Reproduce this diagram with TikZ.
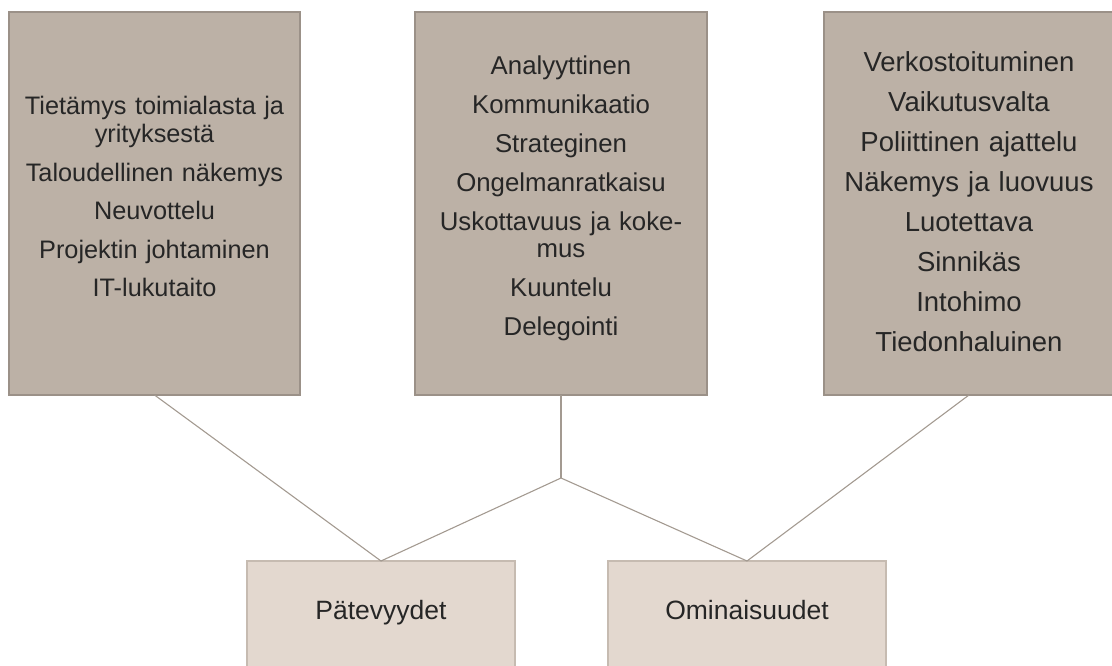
\documentclass[tikz,border=0pt]{standalone}
\usepackage{fontspec}
\setmainfont{Liberation Sans}
\definecolor{topfill}{HTML}{BCB1A6}
\definecolor{topdraw}{HTML}{9B9188}
\definecolor{botfill}{HTML}{E3D8CF}
\definecolor{botdraw}{HTML}{C6BBB1}
\definecolor{linkcol}{HTML}{A39A91}
\definecolor{txt}{HTML}{262626}
\tikzset{
  topbox/.style={draw=topdraw, fill=topfill, line width=1.4pt, minimum width=#1, minimum height=383pt, inner sep=0pt, outer sep=0pt},
  botbox/.style={draw=botdraw, fill=botfill, line width=1.4pt, minimum width=#1, minimum height=110pt, inner sep=0pt, outer sep=0pt},
  itemtext/.style={text=txt, align=center, text width=286pt, inner sep=0pt, anchor=base},
  lbl/.style={text=txt, font=\fontsize{26.5}{30}\selectfont, inner sep=0pt, anchor=base},
  link/.style={draw=linkcol, line width=1.1pt},
}
\begin{document}
\begin{tikzpicture}[x=1pt,y=-1pt]
\useasboundingbox (0,0) rectangle (1112,666);
\clip (0,0) rectangle (1112,666);
% top boxes
\node[topbox=291pt] (left) at (154.5,203.5) {};
\node[topbox=292pt] (mid) at (561,203.5) {};
\node[topbox=290pt] (right) at (969,203.5) {};
% texts
\node[itemtext, font=\fontsize{25.3}{28}\selectfont] (lefttext) at (154.5,115) {Tietämys toimialasta ja\\yrityksestä\\[10.5pt]Taloudellinen näkemys\\[10.5pt]Neuvottelu\\[10.5pt]Projektin johtaminen\\[10.5pt]IT-lukutaito};
\node[itemtext, font=\fontsize{25.8}{27}\selectfont] (midtext) at (561,75) {Analyyttinen\\[12pt]Kommunikaatio\\[12pt]Strateginen\\[12pt]Ongelmanratkaisu\\[12pt]Uskottavuus ja koke-\\mus\\[12pt]Kuuntelu\\[12pt]Delegointi};
\node[itemtext, font=\fontsize{27.5}{40}\selectfont] (righttext) at (969,72) {Verkostoituminen\\Vaikutusvalta\\Poliittinen ajattelu\\Näkemys ja luovuus\\Luotettava\\Sinnikäs\\Intohimo\\Tiedonhaluinen};
% bottom boxes
\node[botbox=268pt] (pat) at (381,616) {};
\node[botbox=278pt] (omi) at (747,616) {};
\node[lbl] (patl) at (381,619) {Pätevyydet};
\node[lbl] (omil) at (747,619) {Ominaisuudet};
% connectors
\coordinate (junc) at (561,478);
\draw[link] (left.south) -- (pat.north);
\draw[link] (mid.south) -- (junc);
\draw[link] (junc) -- (pat.north);
\draw[link] (junc) -- (omi.north);
\draw[link] (right.south) -- (omi.north);
\end{tikzpicture}
\end{document}
